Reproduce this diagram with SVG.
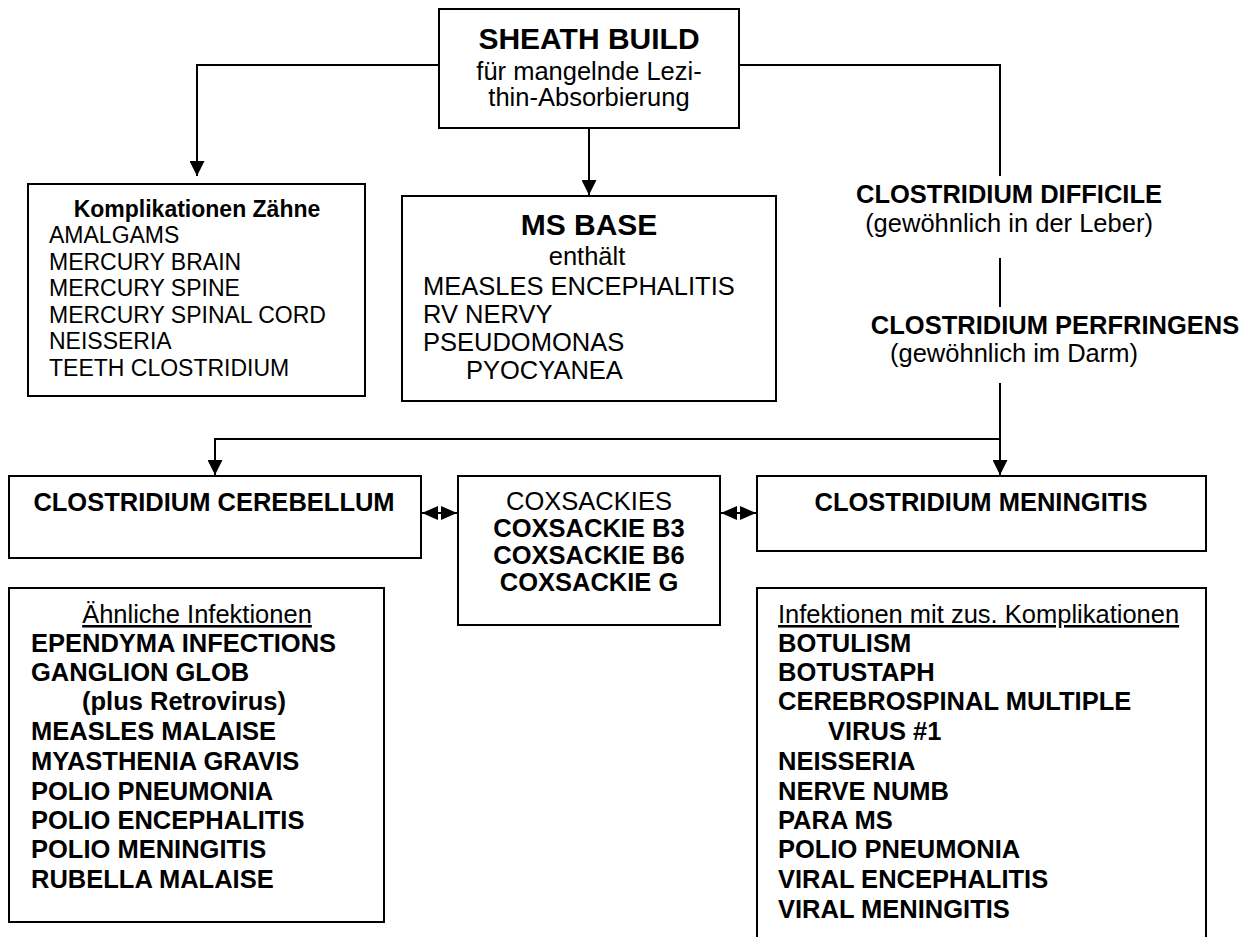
<svg xmlns="http://www.w3.org/2000/svg" width="1254" height="937" viewBox="0 0 1254 937">
<defs>
<marker id="arr" markerWidth="15" markerHeight="15" refX="15" refY="7.5" orient="auto-start-reverse" markerUnits="userSpaceOnUse"><path d="M0,0 L15,7.5 L0,15 Z" fill="#000"/></marker>
<marker id="arr2" markerWidth="16" markerHeight="14" refX="16" refY="7" orient="auto-start-reverse" markerUnits="userSpaceOnUse"><path d="M0,0 L16,7 L0,14 Z" fill="#000"/></marker>
</defs>
<style>
.box{fill:#fff;stroke:#000;stroke-width:2}
.ln{fill:none;stroke:#000;stroke-width:2}
text{font-family:"Liberation Sans",Arial,sans-serif;fill:#000}
.r{font-size:25.5px}
.b{font-size:25.5px;font-weight:bold}
.c{text-anchor:middle}
.s{font-size:23px}
.sb{font-size:23px;font-weight:bold}
.t{font-size:30px;font-weight:bold}
.u{text-decoration:underline}
</style>
<rect width="1254" height="937" fill="#fff"/>
<g id="connectors">
<path class="ln" d="M439,65 H197 V176" marker-end="url(#arr)"/>
<path class="ln" d="M589,128 V195" marker-end="url(#arr)"/>
<path class="ln" d="M739,65 H1000 V176"/>
<path class="ln" d="M1000,258 V307"/>
<path class="ln" d="M1000,383 V475" marker-end="url(#arr)"/>
<path class="ln" d="M1000,439 H215 V475" marker-end="url(#arr)"/>
<path class="ln" d="M422,513 H457" marker-start="url(#arr2)" marker-end="url(#arr2)"/>
<path class="ln" d="M721,513 H756" marker-start="url(#arr2)" marker-end="url(#arr2)"/>
</g>
<g id="sheath-build">
<rect class="box" x="439" y="9" width="300" height="119"/>
<text class="t c" x="589" y="49">SHEATH BUILD</text>
<text class="r c" x="589" y="80">für mangelnde Lezi-</text>
<text class="r c" x="589" y="106">thin-Absorbierung</text>
</g>
<g id="komplikationen-zaehne">
<rect class="box" x="28" y="184" width="337" height="212"/>
<text class="sb c" x="197" y="217">Komplikationen Zähne</text>
<text class="s" x="49" y="243">AMALGAMS</text>
<text class="s" x="49" y="269.5">MERCURY BRAIN</text>
<text class="s" x="49" y="296">MERCURY SPINE</text>
<text class="s" x="49" y="322.5">MERCURY SPINAL CORD</text>
<text class="s" x="49" y="349">NEISSERIA</text>
<text class="s" x="49" y="375.5">TEETH CLOSTRIDIUM</text>
</g>
<g id="ms-base">
<rect class="box" x="402" y="196" width="374" height="205"/>
<text class="t c" x="589" y="235">MS BASE</text>
<text class="r c" x="587" y="265">enthält</text>
<text class="r" x="423" y="295">MEASLES ENCEPHALITIS</text>
<text class="r" x="423" y="323">RV NERVY</text>
<text class="r" x="423" y="351">PSEUDOMONAS</text>
<text class="r" x="466" y="379">PYOCYANEA</text>
</g>
<g id="clostridium-difficile">
<text class="b c" x="1009" y="203">CLOSTRIDIUM DIFFICILE</text>
<text class="r c" x="1009" y="232">(gewöhnlich in der Leber)</text>
</g>
<g id="clostridium-perfringens">
<text class="b c" x="1055" y="334">CLOSTRIDIUM PERFRINGENS</text>
<text class="r c" x="1014" y="362">(gewöhnlich im Darm)</text>
</g>
<g id="clostridium-cerebellum">
<rect class="box" x="9" y="476" width="412" height="82"/>
<text class="b c" x="214" y="511">CLOSTRIDIUM CEREBELLUM</text>
</g>
<g id="coxsackies">
<rect class="box" x="458" y="476" width="262" height="149"/>
<text class="r c" x="589" y="510">COXSACKIES</text>
<text class="b c" x="589" y="537">COXSACKIE B3</text>
<text class="b c" x="589" y="564">COXSACKIE B6</text>
<text class="b c" x="589" y="591">COXSACKIE G</text>
</g>
<g id="clostridium-meningitis">
<rect class="box" x="757" y="476" width="449" height="75"/>
<text class="b c" x="981" y="511">CLOSTRIDIUM MENINGITIS</text>
</g>
<g id="aehnliche-infektionen">
<rect class="box" x="9" y="588" width="375" height="334"/>
<text class="r c u" x="197" y="623">Ähnliche Infektionen</text>
<text class="b" x="31" y="652">EPENDYMA INFECTIONS</text>
<text class="b" x="31" y="681">GANGLION GLOB</text>
<text class="b" x="82" y="710">(plus Retrovirus)</text>
<text class="b" x="31" y="740">MEASLES MALAISE</text>
<text class="b" x="31" y="770">MYASTHENIA GRAVIS</text>
<text class="b" x="31" y="800">POLIO PNEUMONIA</text>
<text class="b" x="31" y="829">POLIO ENCEPHALITIS</text>
<text class="b" x="31" y="858">POLIO MENINGITIS</text>
<text class="b" x="31" y="888">RUBELLA MALAISE</text>
</g>
<g id="infektionen-komplikationen">
<path class="ln" d="M757,940 V588 H1206 V940"/>
<text class="r u" x="778" y="623">Infektionen mit zus. Komplikationen</text>
<text class="b" x="778" y="652">BOTULISM</text>
<text class="b" x="778" y="681">BOTUSTAPH</text>
<text class="b" x="778" y="710">CEREBROSPINAL MULTIPLE</text>
<text class="b" x="828" y="740">VIRUS #1</text>
<text class="b" x="778" y="770">NEISSERIA</text>
<text class="b" x="778" y="800">NERVE NUMB</text>
<text class="b" x="778" y="829">PARA MS</text>
<text class="b" x="778" y="858">POLIO PNEUMONIA</text>
<text class="b" x="778" y="888">VIRAL ENCEPHALITIS</text>
<text class="b" x="778" y="918">VIRAL MENINGITIS</text>
</g>
</svg>
